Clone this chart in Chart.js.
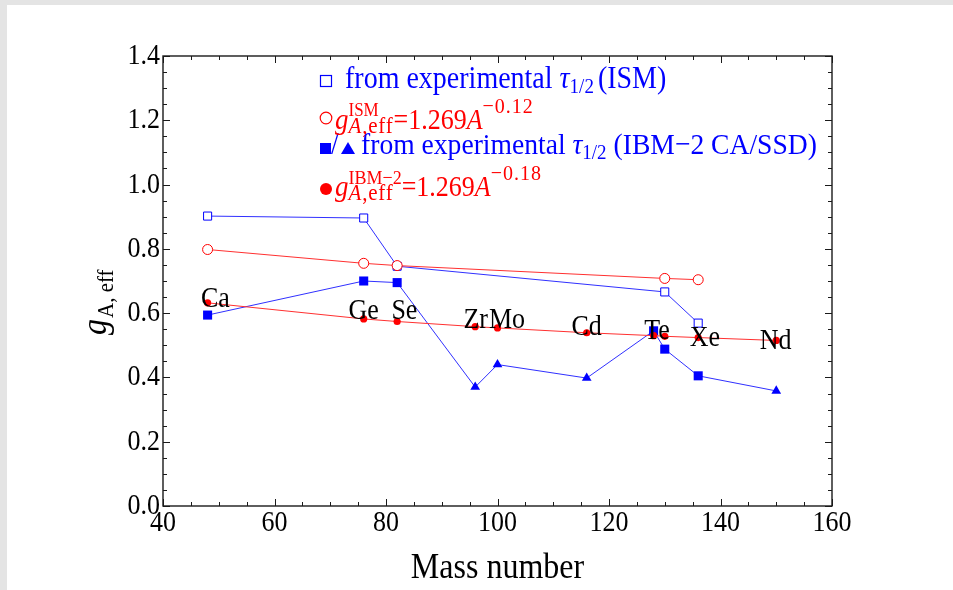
<!DOCTYPE html>
<html>
<head>
<meta charset="utf-8">
<script src="https://cdn.jsdelivr.net/npm/chart.js@4/dist/chart.umd.min.js"></script>
<style>
  html, body { margin: 0; padding: 0; background: #fff; overflow: hidden; }
  canvas { display: block; }
</style>
</head>
<body>
<canvas id="chart" width="953" height="590"></canvas>
<script>
// Effective axial coupling g_A,eff versus mass number A.
// ISM: values extracted from experimental half-lives, and the fit 1.269 A^-0.12
const massISM = [48, 76, 82, 130, 136];
const gExpISM = [0.902, 0.896, 0.746, 0.666, 0.569];
const gFitISM = [0.798, 0.755, 0.748, 0.708, 0.704];

// IBM-2: values from experimental half-lives (CA or SSD), and the fit 1.269 A^-0.18
const massIBM = [48, 76, 82, 96, 100, 116, 128, 130, 136, 150];
const gExpIBM = [0.594, 0.700, 0.695, 0.370, 0.440, 0.398, 0.545, 0.488, 0.405, 0.358];
const approxIBM = ['CA', 'CA', 'CA', 'SSD', 'SSD', 'SSD', 'CA', 'CA', 'CA', 'SSD'];
const gFitIBM = [0.632, 0.582, 0.574, 0.558, 0.554, 0.539, 0.530, 0.528, 0.524, 0.515];

// Nucleus names, anchored in data coordinates (mass number, g_A,eff)
const nuclei = ['Ca', 'Ge', 'Se', 'Zr', 'Mo', 'Cd', 'Te', 'Xe', 'Nd'];
const nucleusA = [49.4, 76.0, 83.3, 96.1, 101.7, 116.0, 128.6, 137.2, 149.9];
const nucleusG = [0.619, 0.582, 0.582, 0.555, 0.554, 0.532, 0.520, 0.498, 0.488];

// Axis ticks
const xTickLabels = ['40', '60', '80', '100', '120', '140', '160'];
const yTickLabels = ['0.0', '0.2', '0.4', '0.6', '0.8', '1.0', '1.2', '1.4'];
const xMinorStep = 5;
const yMinorStep = 0.05;

const SERIF = '"Liberation Serif", "Times New Roman", serif';
const STRETCH = 1.1;
const BLUE = '#0000ff';
const RED = '#ff0000';

function pts(xs, ys) { return xs.map((x, i) => ({ x, y: ys[i] })); }

function txt(ctx, s, x, y, size, o = {}) {
  ctx.save();
  ctx.font = (o.italic ? 'italic ' : '') + size + 'px ' + SERIF;
  ctx.fillStyle = o.color || '#000';
  ctx.textAlign = o.align || 'left';
  ctx.textBaseline = 'alphabetic';
  ctx.letterSpacing = (o.ls || 0) + 'px';
  ctx.translate(x, y);
  ctx.scale(1, STRETCH);
  ctx.fillText(s, 0, 0);
  const w = ctx.measureText(s).width;
  ctx.restore();
  return w;
}

// Runs of text with sub/superscripts; a part with "stack" holds a superscript over a subscript.
function rich(ctx, x, y, parts, color) {
  let cx = x;
  for (const p of parts) {
    if (p.gap) { cx += p.gap; continue; }
    if (p.stack) {
      let w = 0;
      for (const row of p.stack) {
        let rx = cx;
        for (const q of row) rx += txt(ctx, q.t, rx, y + (q.dy || 0), q.size, { italic: q.it, color, ls: q.ls });
        w = Math.max(w, rx - cx);
      }
      cx += w;
    } else {
      cx += txt(ctx, p.t, cx, y + (p.dy || 0), p.size, { italic: p.it, color, ls: p.ls });
    }
  }
  return cx;
}

const decorations = {
  id: 'decorations',
  beforeDraw(chart) {
    const { ctx, width, height } = chart;
    ctx.save();
    ctx.fillStyle = '#e4e4e4';
    ctx.fillRect(0, 0, width, height);
    ctx.fillStyle = '#ffffff';
    ctx.fillRect(7, 5, width - 7, height - 5);
    ctx.restore();
  },
  afterDatasetsDraw(chart) {
    const { ctx, chartArea: a, scales: { x, y } } = chart;

    // nucleus names
    nuclei.forEach((n, i) => {
      txt(ctx, n, x.getPixelForValue(nucleusA[i]), y.getPixelForValue(nucleusG[i]), 26, { align: 'center' });
    });

    // frame
    ctx.save();
    ctx.strokeStyle = '#1a1a1a';
    ctx.lineWidth = 1.4;
    ctx.strokeRect(a.left, a.top, a.right - a.left, a.bottom - a.top);

    // ticks on all four sides, pointing inward
    ctx.lineWidth = 1;
    ctx.beginPath();
    for (let v = x.min, k = 0; v <= x.max + 1e-9; v += xMinorStep, k++) {
      const px = Math.round(x.getPixelForValue(v)) + 0.5;
      const len = (k % 4 === 0) ? 7 : 4;
      ctx.moveTo(px, a.bottom); ctx.lineTo(px, a.bottom - len);
      ctx.moveTo(px, a.top); ctx.lineTo(px, a.top + len);
    }
    const nY = Math.round((y.max - y.min) / yMinorStep);
    for (let k = 0; k <= nY; k++) {
      const py = Math.round(y.getPixelForValue(y.min + k * yMinorStep)) + 0.5;
      const len = (k % 4 === 0) ? 7 : 4;
      ctx.moveTo(a.left, py); ctx.lineTo(a.left + len, py);
      ctx.moveTo(a.right, py); ctx.lineTo(a.right - len, py);
    }
    ctx.stroke();
    ctx.restore();

    // tick labels
    xTickLabels.forEach(l => {
      txt(ctx, l, x.getPixelForValue(Number(l)), a.bottom + 25, 26, { align: 'center' });
    });
    yTickLabels.forEach(l => {
      txt(ctx, l, a.left - 3, y.getPixelForValue(Number(l)) + 8, 26, { align: 'right' });
    });

    // axis titles
    txt(ctx, 'Mass number', (a.left + a.right) / 2, 578, 32, { align: 'center' });
    ctx.save();
    ctx.translate(106, 335);
    ctx.rotate(-Math.PI / 2);
    const w = txt(ctx, 'g', 0, 0, 32, { italic: true });
    txt(ctx, 'A, eff', w + 1, 7, 21, {});
    ctx.restore();

    // legend symbols
    ctx.save();
    ctx.lineWidth = 1.2;
    ctx.strokeStyle = BLUE;
    ctx.strokeRect(320.5, 75.5, 11, 11);
    ctx.strokeStyle = RED;
    ctx.beginPath(); ctx.arc(326, 118, 5.8, 0, Math.PI * 2); ctx.stroke();
    ctx.fillStyle = BLUE;
    ctx.fillRect(320, 143, 11, 11);
    ctx.beginPath(); ctx.moveTo(348, 142); ctx.lineTo(355, 154); ctx.lineTo(341, 154); ctx.closePath(); ctx.fill();
    ctx.fillStyle = RED;
    ctx.beginPath(); ctx.arc(326, 189, 6, 0, Math.PI * 2); ctx.fill();
    ctx.restore();
    txt(ctx, '/', 331, 154, 28, { color: BLUE });

    // legend texts
    rich(ctx, 345, 88, [
      { t: 'from experimental ', size: 28 },
      { t: '\u03c4', size: 28, it: true },
      { t: '1/2', size: 19, dy: 5 },
      { gap: 4 },
      { t: '(ISM)', size: 28 }
    ], BLUE);
    rich(ctx, 335, 129, [
      { t: 'g', size: 27, it: true },
      { stack: [
        [{ t: 'ISM', size: 17, dy: -13 }],
        [{ t: 'A', size: 21, it: true, dy: 4, ls: 0.8 }, { t: ',eff', size: 21, dy: 4, ls: 0.8 }]
      ] },
      { t: '=1.269', size: 26 },
      { t: 'A', size: 26, it: true },
      { t: '\u22120.12', size: 20, dy: -16, ls: 1 }
    ], RED);
    rich(ctx, 361, 154, [
      { t: 'from experimental ', size: 27.6 },
      { t: '\u03c4', size: 27.6, it: true },
      { t: '1/2', size: 19, dy: 5 },
      { t: ' (IBM\u22122 CA/SSD)', size: 27.6 }
    ], BLUE);
    rich(ctx, 335, 196, [
      { t: 'g', size: 27, it: true },
      { stack: [
        [{ t: 'IBM\u22122', size: 18, dy: -12 }],
        [{ t: 'A', size: 21, it: true, dy: 4, ls: 0.8 }, { t: ',eff', size: 21, dy: 4, ls: 0.8 }]
      ] },
      { t: '=1.269', size: 26 },
      { t: 'A', size: 26, it: true },
      { t: '\u22120.18', size: 20, dy: -16, ls: 1 }
    ], RED);
  }
};

new Chart(document.getElementById('chart'), {
  type: 'scatter',
  data: {
    datasets: [
      {
        label: 'IBM-2 fit',
        data: pts(massIBM, gFitIBM),
        showLine: true,
        borderColor: '#ff3030',
        borderWidth: 1,
        pointStyle: 'circle',
        pointRadius: 3.6,
        pointBackgroundColor: RED,
        pointBorderColor: RED,
        pointBorderWidth: 0
      },
      {
        label: 'IBM-2 from experimental half-life',
        data: pts(massIBM, gExpIBM),
        showLine: true,
        borderColor: '#3030ff',
        borderWidth: 1,
        pointStyle: approxIBM.map(m => m === 'CA' ? 'rect' : 'triangle'),
        pointRadius: approxIBM.map(m => m === 'CA' ? 6.4 : 5.6),
        pointBackgroundColor: BLUE,
        pointBorderColor: BLUE,
        pointBorderWidth: 0
      },
      {
        label: 'ISM fit',
        data: pts(massISM, gFitISM),
        showLine: true,
        borderColor: '#ff3030',
        borderWidth: 1,
        pointStyle: 'circle',
        pointRadius: 5,
        pointBackgroundColor: '#ffffff',
        pointBorderColor: RED,
        pointBorderWidth: 1
      },
      {
        label: 'ISM from experimental half-life',
        data: pts(massISM, gExpISM),
        showLine: true,
        borderColor: '#3030ff',
        borderWidth: 1,
        pointStyle: 'rect',
        pointRadius: 5.7,
        pointBackgroundColor: '#ffffff',
        pointBorderColor: BLUE,
        pointBorderWidth: 1
      }
    ]
  },
  options: {
    responsive: false,
    animation: false,
    events: [],
    layout: { padding: { left: 163, top: 56, right: 121, bottom: 84 } },
    scales: {
      x: { type: 'linear', min: 40, max: 160, display: false },
      y: { type: 'linear', min: 0, max: 1.4, display: false }
    },
    plugins: { legend: { display: false }, tooltip: { enabled: false } }
  },
  plugins: [decorations]
});
</script>
</body>
</html>
